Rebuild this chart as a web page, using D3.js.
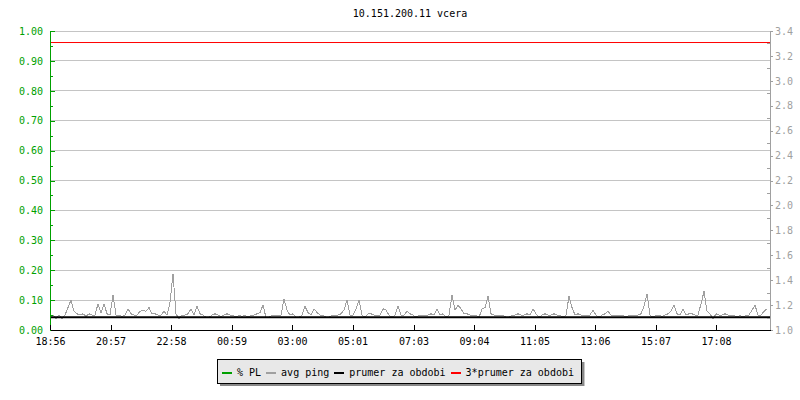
<!DOCTYPE html>
<html>
<head>
<meta charset="utf-8">
<script src="https://cdn.jsdelivr.net/npm/d3@7"></script>
<style>
  body { margin: 0; background: #fff; }
  text { font-family: "DejaVu Sans Mono", monospace; font-size: 10px; }
</style>
</head>
<body>
<svg id="chart" width="800" height="400"></svg>
<script>
// --- data ---
const title = "10.151.200.11 vcera"
const startLabel = "18:56"
const spanMinutes = 1440
const timeLabels = ["18:56","20:57","22:58","00:59","03:00","05:01","07:03","09:04","11:05","13:06","15:07","17:08"]
const leftTickLabels = ["0.00","0.10","0.20","0.30","0.40","0.50","0.60","0.70","0.80","0.90","1.00"]
const rightTickLabels = ["1.0","1.2","1.4","1.6","1.8","2.0","2.2","2.4","2.6","2.8","3.0","3.2","3.4"]

// avg ping, one value every 6 minutes from 18:56
const pingStep = 6
const pingValues = [
  1.12,1.12,1.09,1.12,1.09,1.12,1.18,1.24,1.15,1.13, 1.12,1.13,1.11,1.13,1.12,1.12,1.21,1.14,1.21,1.13,
  1.12,1.28,1.12,1.12,1.11,1.12,1.17,1.13,1.12,1.12, 1.15,1.16,1.15,1.18,1.13,1.13,1.12,1.12,1.15,1.12,
  1.22,1.45,1.13,1.09,1.12,1.12,1.13,1.17,1.12,1.19, 1.13,1.12,1.10,1.10,1.12,1.13,1.12,1.11,1.12,1.13,
  1.12,1.12,1.10,1.12,1.11,1.12,1.10,1.12,1.12,1.13, 1.14,1.20,1.10,1.10,1.12,1.12,1.12,1.12,1.25,1.16,
  1.12,1.13,1.10,1.10,1.12,1.19,1.14,1.12,1.17,1.14, 1.12,1.12,1.10,1.10,1.12,1.12,1.12,1.13,1.16,1.24,
  1.12,1.12,1.17,1.24,1.12,1.10,1.13,1.13,1.12,1.12, 1.12,1.17,1.16,1.12,1.10,1.12,1.19,1.12,1.12,1.15,
  1.13,1.12,1.10,1.12,1.12,1.12,1.12,1.13,1.12,1.17, 1.12,1.13,1.10,1.12,1.28,1.16,1.20,1.17,1.13,1.13,
  1.12,1.12,1.12,1.10,1.17,1.18,1.27,1.13,1.12,1.12, 1.12,1.12,1.10,1.10,1.12,1.12,1.13,1.12,1.12,1.13,
  1.12,1.17,1.13,1.10,1.12,1.13,1.12,1.12,1.13,1.12, 1.12,1.10,1.12,1.27,1.18,1.12,1.13,1.12,1.12,1.12,
  1.12,1.16,1.12,1.10,1.12,1.13,1.15,1.12,1.12,1.12, 1.12,1.12,1.10,1.12,1.12,1.12,1.12,1.13,1.19,1.29,
  1.12,1.10,1.12,1.12,1.11,1.12,1.13,1.15,1.20,1.13, 1.12,1.17,1.12,1.13,1.13,1.12,1.12,1.21,1.31,1.15,
  1.13,1.09,1.13,1.12,1.12,1.13,1.12,1.12,1.12,1.10, 1.12,1.10,1.12,1.12,1.16,1.20,1.12,1.12,1.15,1.17
]
// % PL (packet loss) stays at zero
const plTimes = [0, 1440]
const plValues = [0, 0]
// average over the period
const prumer = 1.1025

const legendLabels = ["% PL", "avg ping", "prumer za obdobi", "3*prumer za obdobi"]
const legendColors = ["#00a000", "#a0a0a0", "#000000", "#ff0000"]

// --- drawing ---
const svg = d3.select("#chart")
svg.append("rect").attr("width", 800).attr("height", 400).attr("fill", "#fff")

function minutesFromStart(lbl) {
  const p = lbl.split(":").map(Number)
  const s = startLabel.split(":").map(Number)
  return ((p[0]*60 + p[1]) - (s[0]*60 + s[1]) + 1440) % 1440
}

const x = d3.scaleLinear().domain([0, spanMinutes]).range([50, 770])
const yL = d3.scaleLinear().domain([0, 1]).range([330, 31])
const yR = d3.scaleLinear().domain([1, 3.4]).range([330, 31])

svg.append("text").attr("x", 410).attr("y", 17).attr("text-anchor", "middle").attr("fill", "#000").text(title)

// grid
svg.append("g").attr("shape-rendering", "crispEdges")
  .selectAll("line").data(leftTickLabels.slice(1).map(Number)).join("line")
  .attr("x1", x(0)).attr("x2", x(spanMinutes))
  .attr("y1", d => yL(d)).attr("y2", d => yL(d))
  .attr("stroke", "#c4c4c4")

// series
svg.append("path")
  .datum(plTimes.map((t, i) => [t, plValues[i]]))
  .attr("fill", "none").attr("stroke", legendColors[0]).attr("stroke-width", 1)
  .attr("shape-rendering", "crispEdges")
  .attr("d", d3.line().x(d => x(d[0])).y(d => yL(d[1])))

svg.append("path")
  .datum(pingValues)
  .attr("fill", "none").attr("stroke", legendColors[1]).attr("stroke-width", 1)
  .attr("shape-rendering", "crispEdges")
  .attr("d", d3.line().x((d, i) => x(i * pingStep)).y(d => yR(d)))

svg.append("line")
  .attr("x1", x(0)).attr("x2", x(spanMinutes))
  .attr("y1", yR(prumer)).attr("y2", yR(prumer))
  .attr("stroke", legendColors[2]).attr("stroke-width", 2)

svg.append("line")
  .attr("x1", x(0)).attr("x2", x(spanMinutes))
  .attr("y1", yR(3 * prumer)).attr("y2", yR(3 * prumer))
  .attr("stroke", legendColors[3]).attr("stroke-width", 1)

// axes
const leftVals = leftTickLabels.map(Number)
const gL = svg.append("g").attr("transform", "translate(50,0)").attr("shape-rendering", "crispEdges")
  .call(d3.axisLeft(yL).tickValues(leftVals).tickFormat((d, i) => leftTickLabels[i]).tickSize(-5).tickSizeOuter(0).tickPadding(7))
gL.select(".domain").attr("stroke", "#00a000")
gL.selectAll(".tick line").attr("stroke", "#00a000")
gL.selectAll(".tick text").attr("fill", "#00a000").style("font-family", "DejaVu Sans Mono").style("font-size", "10px")
svg.append("g").attr("transform", "translate(50,0)").attr("shape-rendering", "crispEdges")
  .call(d3.axisLeft(yL).tickValues(leftVals.slice(1).map(v => v - 0.05)).tickFormat("").tickSize(-3).tickSizeOuter(0))
  .call(g => g.select(".domain").remove())
  .selectAll(".tick line").attr("stroke", "#00a000")

const rightVals = rightTickLabels.map(Number)
const gR = svg.append("g").attr("transform", "translate(770,0)").attr("shape-rendering", "crispEdges")
  .call(d3.axisRight(yR).tickValues(rightVals).tickFormat((d, i) => rightTickLabels[i]).tickSize(3).tickSizeOuter(0).tickPadding(2))
gR.select(".domain").attr("stroke", "#a0a0a0")
gR.selectAll(".tick line").attr("stroke", "#a0a0a0")
gR.selectAll(".tick text").attr("fill", "#a0a0a0").style("font-family", "DejaVu Sans Mono").style("font-size", "10px")
svg.append("g").attr("transform", "translate(770,0)").attr("shape-rendering", "crispEdges")
  .call(d3.axisRight(yR).tickValues(rightVals.slice(1).map(v => v - 0.1)).tickFormat("").tickSize(-3).tickSizeOuter(0))
  .call(g => g.select(".domain").remove())
  .selectAll(".tick line").attr("stroke", "#a0a0a0")

const gB = svg.append("g").attr("transform", "translate(0,330)").attr("shape-rendering", "crispEdges")
  .call(d3.axisBottom(x).tickValues(timeLabels.map(minutesFromStart)).tickFormat((d, i) => timeLabels[i]).tickSize(-5).tickSizeOuter(0).tickPadding(8))
gB.select(".domain").attr("stroke", "#000")
gB.selectAll(".tick line").attr("stroke", "#000")
gB.selectAll(".tick text").attr("fill", "#000").style("font-family", "DejaVu Sans Mono").style("font-size", "10px")

// legend
const lg = svg.append("g")
const shadow = lg.append("rect").attr("fill", "#888")
const box = lg.append("rect").attr("fill", "#e8e8e8").attr("stroke", "#000").attr("shape-rendering", "crispEdges")
let lx = 222
legendLabels.forEach((lbl, i) => {
  lg.append("line").attr("x1", lx).attr("x2", lx + 10).attr("y1", 372.5).attr("y2", 372.5)
    .attr("stroke", legendColors[i]).attr("stroke-width", 2).attr("shape-rendering", "crispEdges")
  const t = lg.append("text").attr("x", lx + 15).attr("y", 376).attr("fill", "#000").text(lbl)
  lx = lx + 15 + t.node().getComputedTextLength() + 5
})
box.attr("x", 217.5).attr("y", 359.5).attr("width", lx + 3 - 217.5).attr("height", 24)
shadow.attr("x", 220).attr("y", 362).attr("width", lx + 3 - 217.5).attr("height", 24)
</script>
</body>
</html>
